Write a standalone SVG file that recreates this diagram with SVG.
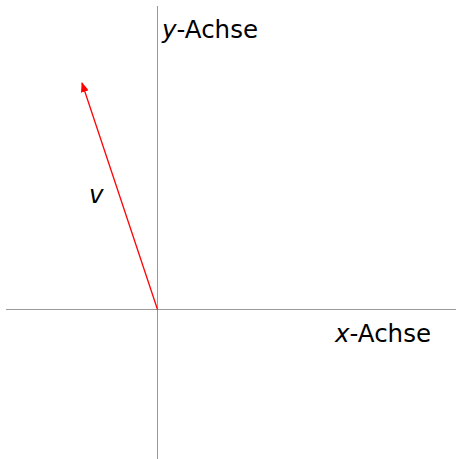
<svg xmlns="http://www.w3.org/2000/svg" width="456" height="459" viewBox="0 0 456 459">
<style>
.axis{stroke:#999;stroke-width:1;fill:none}
.lbl{font-family:"DejaVu Sans","Liberation Sans",sans-serif;font-size:24.5px;fill:#000}
.it{font-style:italic}
</style>
<defs>
<marker id="ah" markerWidth="10" markerHeight="8" refX="9" refY="4" orient="auto" markerUnits="userSpaceOnUse">
<path d="M0,0 L10,4 L0,8 Z" fill="#ff0000"/>
</marker>
</defs>
<rect width="456" height="459" fill="#fff"/>
<g id="axes">
<line class="axis" x1="6" y1="309.5" x2="456" y2="309.5"/>
<line class="axis" x1="157.5" y1="6" x2="157.5" y2="459"/>
</g>
<g id="connectors">
<line x1="157.5" y1="309.5" x2="82" y2="83" stroke="#ff0000" stroke-width="1.3" marker-end="url(#ah)"/>
</g>
<g id="labels">
<text class="lbl" x="162" y="38"><tspan class="it">y</tspan>-Achse</text>
<text class="lbl" x="335" y="342"><tspan class="it">x</tspan>-Achse</text>
<text class="lbl it" x="89" y="203">v</text>
</g>
</svg>
